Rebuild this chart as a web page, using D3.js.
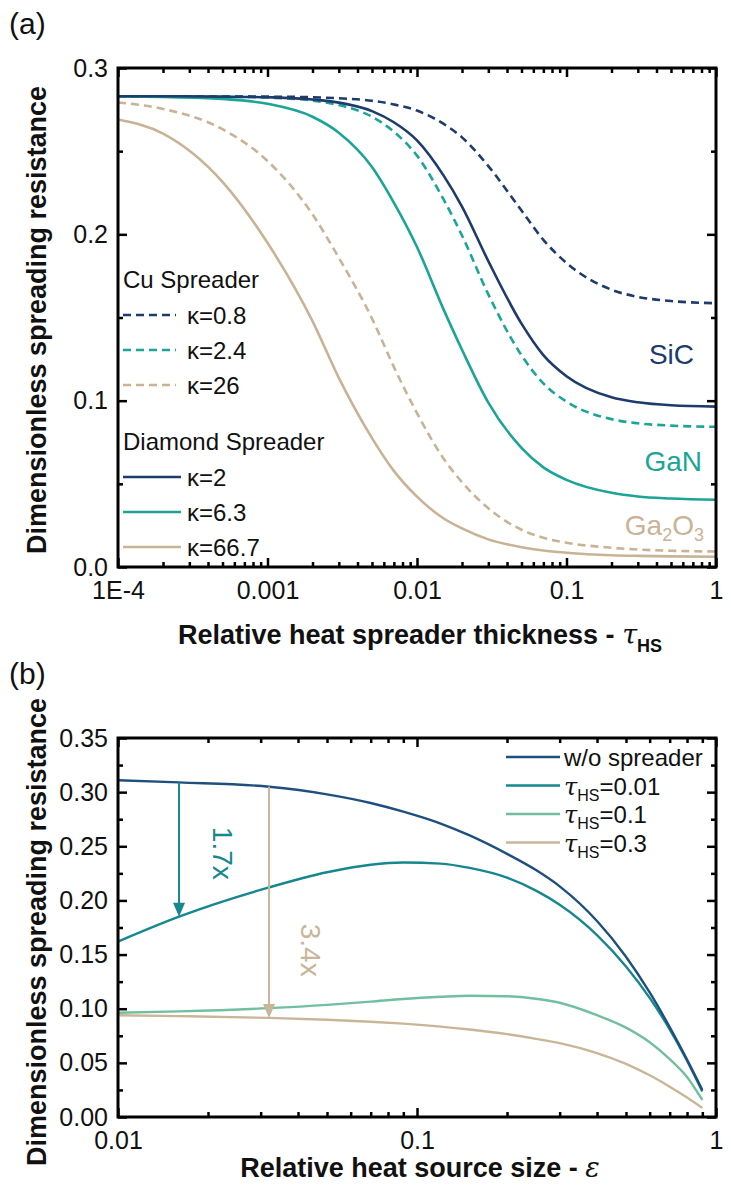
<!DOCTYPE html>
<html>
<head>
<meta charset="utf-8">
<script src="https://cdn.jsdelivr.net/npm/d3@7"></script>
<style>
  body { margin: 0; background: #fff; }
  text { font-family: "Liberation Sans", Arial, sans-serif; }
  .bold { font-weight: bold; }
</style>
</head>
<body>
<script>
// ---- panel (a) data : relative spreader thickness tau_HS ----
const tauHS = [1e-4, 2e-4, 5e-4, 1e-3, 2e-3, 3e-3, 5e-3, 0.007, 0.01, 0.015, 0.02, 0.03, 0.05, 0.07, 0.1, 0.2, 0.3, 0.5, 1]
const cuK08   = [.283, .283, .283, .2828, .2824, .2818, .2803, .2781, .2744, .2665, .2583, .241, .2143, .1967, .1828, .1667, .1624, .1599, .1586]
const cuK24   = [.283, .283, .2828, .2822, .2804, .2777, .2707, .2617, .2473, .2213, .1993, .1639, .1273, .1104, .0994, .0889, .0864, .085, .0843]
const cuK26   = [.2793, .2754, .2632, .2441, .212, .1859, .1494, .1203, .0925, .0654, .051, .0353, .0224, .0176, .0146, .0116, .0105, .0098, .0093]
const diaK2   = [.283, .283, .2828, .2824, .2811, .2792, .2741, .2674, .2565, .2356, .2167, .1839, .1463, .1274, .1147, .102, .099, .0972, .0964]
const diaK63  = [.2829, .2826, .2814, .2785, .2707, .2611, .2405, .2191, .1924, .1552, .1306, .0988, .0716, .0599, .0524, .0446, .0424, .0412, .0404]
const diaK667 = [.269, .2606, .2316, .1949, .1478, .1137, .0775, .0578, .0423, .0293, .0232, .0166, .0119, .0099, .0086, .0071, .0067, .0064, .0062]
const yTicksA = [0, 0.1, 0.2, 0.3]
const xTicksA = [1e-4, 1e-3, 1e-2, 1e-1, 1]
const xLabelsA = ['1E-4', '0.001', '0.01', '0.1', '1']

// ---- panel (b) data : relative heat source size eps ----
const eps = [0.01, 0.016, 0.032, 0.05, 0.07, 0.09, 0.12, 0.15, 0.2, 0.25, 0.3, 0.4, 0.5, 0.6, 0.7, 0.8, 0.9]
const noSpreader = [.311, .309, .305, .298, .290, .282, .271, .260, .243, .228, .213, .181, .148, .115, .083, .053, .025]
const tau001 = [.162, .185, .212, .226, .233, .235, .234, .230, .221, .209, .196, .168, .139, .110, .081, .052, .0235]
const tau01  = [.0963, .0975, .1005, .1035, .1065, .109, .111, .112, .1115, .1092, .1055, .094, .0825, .069, .0535, .037, .0157]
const tau03  = [.094, .0932, .0915, .0898, .088, .0862, .0835, .0808, .0765, .0722, .0682, .059, .049, .0385, .028, .018, .0084]
const yTicksB = [0, 0.05, 0.1, 0.15, 0.2, 0.25, 0.3, 0.35]
const xTicksB = [0.01, 0.1, 1]
const xLabelsB = ['0.01', '0.1', '1']

const navyA = '#1d3b6c', tealA = '#1ba596', tanA = '#c9b396'
const navyB = '#1e4f7e', tealB = '#17878f', greenB = '#72bf9f', tanB = '#c9b597'

const svg = d3.select('body').append('svg').attr('width', 731).attr('height', 1194)

function minorsOf(lo, hi) {
  const out = []
  for (let e = Math.round(Math.log10(lo)); e < Math.round(Math.log10(hi)); e++)
    for (let m = 2; m <= 9; m++) out.push(m * Math.pow(10, e))
  return out
}

function frame(g, x, y, xMajor, xLabels, yMajor, yMinor, yFmt) {
  const [x0, x1] = x.range(), [y0, y1] = y.range()
  const xMinor = minorsOf(x.domain()[0], x.domain()[1])
  const style = sel => { sel.select('.domain').remove(); sel.selectAll('line').attr('stroke', '#000').attr('stroke-width', 2.5) }
  g.append('g').attr('transform', `translate(0,${y0})`)
    .call(d3.axisBottom(x).tickValues(xMajor).tickSize(-9).tickPadding(14).tickFormat((d, i) => xLabels[i]))
    .call(style)
  g.append('g').attr('transform', `translate(0,${y0})`)
    .call(d3.axisBottom(x).tickValues(xMinor).tickSize(-5).tickFormat('')).call(style)
  g.append('g').attr('transform', `translate(0,${y1})`)
    .call(d3.axisTop(x).tickValues(xMajor).tickSize(-9).tickFormat('')).call(style)
  g.append('g').attr('transform', `translate(0,${y1})`)
    .call(d3.axisTop(x).tickValues(xMinor).tickSize(-5).tickFormat('')).call(style)
  g.append('g').attr('transform', `translate(${x0},0)`)
    .call(d3.axisLeft(y).tickValues(yMajor).tickSize(-9).tickPadding(10).tickFormat(yFmt)).call(style)
  g.append('g').attr('transform', `translate(${x0},0)`)
    .call(d3.axisLeft(y).tickValues(yMinor).tickSize(-5).tickFormat('')).call(style)
  g.append('g').attr('transform', `translate(${x1},0)`)
    .call(d3.axisRight(y).tickValues(yMajor).tickSize(-9).tickFormat('')).call(style)
  g.append('g').attr('transform', `translate(${x1},0)`)
    .call(d3.axisRight(y).tickValues(yMinor).tickSize(-5).tickFormat('')).call(style)
  g.selectAll('.tick text').attr('font-size', 25).attr('fill', '#111')
    .style('font-family', '"Liberation Sans", Arial, sans-serif')
  g.append('rect').attr('x', x0).attr('y', y1).attr('width', x1 - x0).attr('height', y0 - y1)
    .attr('fill', 'none').attr('stroke', '#000').attr('stroke-width', 3)
}

function yTitle(cy) {
  svg.append('text').attr('class', 'bold').attr('transform', `translate(46,${cy}) rotate(-90)`)
    .attr('text-anchor', 'middle').attr('font-size', 27).attr('fill', '#111')
    .text('Dimensionless spreading resistance')
}

// ================= panel (a) =================
const xa = d3.scaleLog().domain([1e-4, 1]).range([118, 716])
const ya = d3.scaleLinear().domain([0, 0.3]).range([567, 68])
const ga = svg.append('g')

const seriesA = [
  { v: cuK08, c: navyA, dash: true }, { v: cuK24, c: tealA, dash: true }, { v: cuK26, c: tanA, dash: true },
  { v: diaK667, c: tanA }, { v: diaK63, c: tealA }, { v: diaK2, c: navyA }
]
const lineA = d3.line().x(d => xa(d[0])).y(d => ya(d[1])).curve(d3.curveMonotoneX)
ga.selectAll('path.curve')
  .data(seriesA)
  .enter().append('path')
    .attr('class', 'curve')
    .attr('fill', 'none')
    .attr('stroke', d => d.c)
    .attr('stroke-width', 2.6)
    .attr('stroke-dasharray', d => d.dash ? '8,5' : null)
    .attr('d', d => lineA(tauHS.map((t, i) => [t, d.v[i]])))

frame(ga, xa, ya, xTicksA, xLabelsA, yTicksA, [0.05, 0.15, 0.25], d3.format('.1f'))

// legend (a)
const legA = [
  { head: 'Cu Spreader', y: 279 },
  { lab: 'κ=0.8', c: navyA, dash: true, y: 315 },
  { lab: 'κ=2.4', c: tealA, dash: true, y: 350 },
  { lab: 'κ=26', c: tanA, dash: true, y: 385 },
  { head: 'Diamond Spreader', y: 441 },
  { lab: 'κ=2', c: navyA, y: 477 },
  { lab: 'κ=6.3', c: tealA, y: 512 },
  { lab: 'κ=66.7', c: tanA, y: 547 }
]
legA.forEach(d => {
  if (d.head) {
    ga.append('text').attr('x', 123).attr('y', d.y + 9).attr('font-size', 24).attr('fill', '#111').text(d.head)
  } else {
    ga.append('line').attr('x1', 123).attr('x2', d.dash ? 176 : 181).attr('y1', d.y).attr('y2', d.y)
      .attr('stroke', d.c).attr('stroke-width', 2.6).attr('stroke-dasharray', d.dash ? '8,5' : null)
    ga.append('text').attr('x', 187).attr('y', d.y + 9).attr('font-size', 24).attr('fill', '#111').text(d.lab)
  }
})

// material labels
ga.append('text').attr('x', 694).attr('y', ya(0.128) + 10).attr('text-anchor', 'end')
  .attr('font-size', 28).attr('fill', navyA).text('SiC')
ga.append('text').attr('x', 702).attr('y', ya(0.064) + 10).attr('text-anchor', 'end')
  .attr('font-size', 28).attr('fill', tealA).text('GaN')
const ga2o3 = ga.append('text').attr('x', 704).attr('y', ya(0.024) + 8).attr('text-anchor', 'end')
  .attr('font-size', 28).attr('fill', tanA)
ga2o3.append('tspan').text('Ga')
ga2o3.append('tspan').attr('font-size', 18).attr('dy', 6).text('2')
ga2o3.append('tspan').attr('dy', -6).text('O')
ga2o3.append('tspan').attr('font-size', 18).attr('dy', 6).text('3')

svg.append('text').attr('x', 9).attr('y', 34).attr('font-size', 30).attr('fill', '#111').text('(a)')
yTitle(320)
const xtA = svg.append('text').attr('class', 'bold').attr('x', 420).attr('y', 644)
  .attr('text-anchor', 'middle').attr('font-size', 27).attr('fill', '#111')
xtA.append('tspan').text('Relative heat spreader thickness - ')
xtA.append('tspan').attr('font-family', 'DejaVu Serif, serif').attr('font-style', 'italic').attr('font-weight', 'normal').text('τ')
xtA.append('tspan').attr('font-size', 18).attr('dy', 8).text('HS')

// ================= panel (b) =================
const xb = d3.scaleLog().domain([0.01, 1]).range([118, 716])
const yb = d3.scaleLinear().domain([0, 0.35]).range([1117, 738])
const gb = svg.append('g')

const seriesB = [
  { v: tau03, c: tanB, lab: '=0.3' }, { v: tau01, c: greenB, lab: '=0.1' },
  { v: tau001, c: tealB, lab: '=0.01' }, { v: noSpreader, c: navyB, lab: 'w/o spreader' }
]
const lineB = d3.line().x(d => xb(d[0])).y(d => yb(d[1])).curve(d3.curveMonotoneX)
gb.selectAll('path.curve')
  .data(seriesB)
  .enter().append('path')
    .attr('class', 'curve')
    .attr('fill', 'none')
    .attr('stroke', d => d.c)
    .attr('stroke-width', 2.4)
    .attr('d', d => lineB(eps.map((e, i) => [e, d.v[i]])))

// reduction arrows
const arrows = [
  { i: eps.indexOf(0.016), top: noSpreader, bot: tau001, c: tealB, lab: '1.7x', ly: 0.2435, dx: 24 },
  { i: eps.indexOf(0.032), top: noSpreader, bot: tau03, c: tanB, lab: '3.4x', ly: 0.154, dx: 22 }
]
arrows.forEach(a => {
  const ax = xb(eps[a.i]), yt = yb(a.top[a.i]), ybt = yb(a.bot[a.i])
  gb.append('line').attr('x1', ax).attr('x2', ax).attr('y1', yt).attr('y2', ybt - 12)
    .attr('stroke', a.c).attr('stroke-width', 2)
  gb.append('path').attr('d', `M${ax - 6},${ybt - 14} L${ax + 6},${ybt - 14} L${ax},${ybt} Z`).attr('fill', a.c)
  gb.append('text').attr('transform', `translate(${ax + a.dx},${yb(a.ly)}) rotate(90)`)
    .attr('text-anchor', 'middle').attr('dy', '-0.35em').attr('font-size', 28).attr('fill', a.c).text(a.lab)
})

frame(gb, xb, yb, xTicksB, xLabelsB, yTicksB, [0.025, 0.075, 0.125, 0.175, 0.225, 0.275, 0.325], d3.format('.2f'))

// legend (b)
const legB = seriesB.slice().reverse()
legB.forEach((d, i) => {
  const ly = 757 + i * 28.5
  gb.append('line').attr('x1', 506).attr('x2', 560).attr('y1', ly).attr('y2', ly)
    .attr('stroke', d.c).attr('stroke-width', 2.6)
  const t = gb.append('text').attr('x', 564).attr('y', ly + 9).attr('font-size', 24).attr('fill', '#111')
  if (i === 0) { t.text(d.lab); return }
  t.append('tspan').attr('font-family', 'DejaVu Serif, serif').attr('font-style', 'italic').text('τ')
  t.append('tspan').attr('font-size', 16).attr('dy', 6).text('HS')
  t.append('tspan').attr('dy', -6).text(d.lab)
})

svg.append('text').attr('x', 9).attr('y', 684).attr('font-size', 30).attr('fill', '#111').text('(b)')
yTitle(932)
const xtB = svg.append('text').attr('class', 'bold').attr('x', 420).attr('y', 1177)
  .attr('text-anchor', 'middle').attr('font-size', 27).attr('fill', '#111')
xtB.append('tspan').text('Relative heat source size - ')
xtB.append('tspan').attr('font-family', 'DejaVu Serif, serif').attr('font-style', 'italic').attr('font-weight', 'normal').text('ε')
</script>
</body>
</html>
